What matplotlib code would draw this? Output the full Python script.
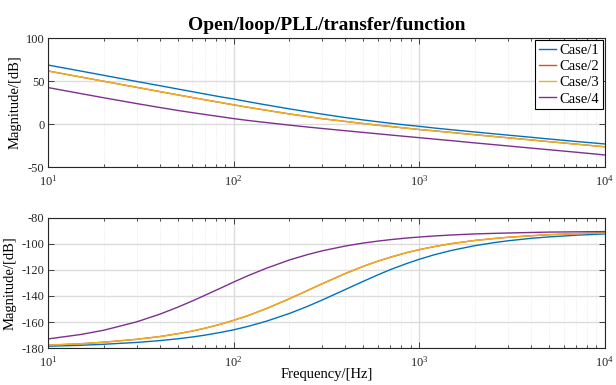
import matplotlib
matplotlib.use("Agg")
import matplotlib.pyplot as plt
import numpy as np
from matplotlib.ticker import LogLocator, NullFormatter

plt.rcParams['font.family'] = ['Liberation Serif', 'DejaVu Serif']
plt.rcParams['mathtext.fontset'] = 'stix'
plt.rcParams['axes.unicode_minus'] = False

freq = [10, 15, 20, 30, 40, 50, 60, 70, 85, 100, 120, 150, 200, 250, 300, 400, 500,
        600, 700, 850, 1000, 1200, 1500, 2000, 2500, 3000, 4000, 5000, 7000, 10000]

# open loop gain [dB]
mag_case1 = [68.7, 61.7, 56.7, 49.6, 44.7, 40.8, 37.7, 35.0, 31.7, 29.2, 26.0, 22.3,
             17.7, 14.3, 11.6, 7.6, 4.8, 2.7, 1.0, -1.1, -2.6, -4.5, -6.6, -9.2,
             -11.2, -12.8, -15.3, -17.3, -20.2, -23.1]
mag_case2 = [61.8, 54.8, 49.8, 42.8, 37.8, 34.0, 30.9, 28.3, 25.1, 22.4, 19.5, 16.1,
             11.8, 8.8, 6.3, 3.1, 0.6, -1.3, -2.8, -4.7, -6.3, -7.8, -9.8, -12.4,
             -14.3, -15.9, -18.4, -20.4, -23.3, -26.4]
mag_case3 = [61.8, 54.8, 49.8, 42.8, 37.8, 34.0, 30.9, 28.3, 25.1, 22.4, 19.5, 16.1,
             11.8, 8.8, 6.3, 3.1, 0.6, -1.3, -2.8, -4.7, -6.3, -7.8, -9.8, -12.4,
             -14.3, -15.9, -18.4, -20.4, -23.3, -26.4]
mag_case4 = [42.5, 35.5, 30.6, 23.9, 19.3, 15.9, 13.3, 11.2, 8.6, 6.4, 4.2, 1.8,
             -1.2, -3.4, -5.1, -7.7, -9.7, -11.3, -12.7, -14.4, -15.8, -17.4, -19.3, -21.9,
             -23.8, -25.4, -27.9, -29.8, -32.7, -35.9]

# lower panel values
ph_case1 = [-178.6, -177.9, -177.1, -175.7, -174.3, -172.9, -171.5, -170.1, -168.0, -166.0,
            -163.3, -159.4, -153.4, -148.0, -143.1, -135.0, -128.7, -123.7, -119.7, -115.2,
            -111.8, -108.4, -104.9, -101.3, -99.1, -97.6, -95.7, -94.6, -93.3, -92.3]
ph_case2 = [-177.8, -176.7, -175.5, -173.3, -171.2, -169.0, -166.9, -164.8, -161.7, -158.7,
            -155.0, -149.7, -142.1, -135.8, -130.6, -122.7, -117.2, -113.2, -110.2, -106.8,
            -104.4, -102.1, -99.7, -97.3, -95.9, -94.9, -93.7, -92.9, -92.1, -91.5]
ph_case3 = [-177.8, -176.7, -175.5, -173.3, -171.2, -169.0, -166.9, -164.8, -161.7, -158.7,
            -155.0, -149.7, -142.1, -135.8, -130.6, -122.7, -117.2, -113.2, -110.2, -106.8,
            -104.4, -102.1, -99.7, -97.3, -95.9, -94.9, -93.7, -92.9, -92.1, -91.5]
ph_case4 = [-173.0, -169.6, -166.3, -159.9, -154.0, -148.6, -143.8, -139.5, -134.0, -129.3,
            -124.3, -118.7, -112.3, -108.2, -105.3, -101.6, -99.3, -97.8, -96.7, -95.5,
            -94.7, -93.9, -93.1, -92.3, -91.9, -91.6, -91.2, -90.9, -90.7, -90.5]

labels = ['Case/1', 'Case/2', 'Case/3', 'Case/4']
colors = ['#0072BD', '#D95319', '#EDB120', '#7E2F8E']

fig = plt.figure(figsize=(6.16, 3.85), dpi=100)
ax1 = fig.add_axes([0.0779, 0.566, 0.904, 0.335])
ax2 = fig.add_axes([0.0779, 0.096, 0.904, 0.338])

for c, lab, col in zip([mag_case1, mag_case2, mag_case3, mag_case4], labels, colors):
    ax1.semilogx(freq, c, color=col, lw=1.0, label=lab)
for c, col in zip([ph_case1, ph_case2, ph_case3, ph_case4], colors):
    ax2.semilogx(freq, c, color=col, lw=1.0)

def style(ax, labx):
    ax.set_xlim(10, 1e4)
    ax.xaxis.set_major_locator(LogLocator(base=10))
    ax.xaxis.set_minor_locator(LogLocator(base=10, subs=np.arange(2, 10)))
    ax.xaxis.set_minor_formatter(NullFormatter())
    ax.tick_params(which='both', direction='in', top=True, right=True, labelsize=9,
                   colors='#262626', width=0.6, pad=2.5)
    ax.tick_params(axis='x', which='major', pad=5)
    ax.tick_params(which='major', length=4)
    ax.tick_params(which='minor', length=2.5)
    ax.grid(True, which='major', color='#dcdcdc', lw=1.0)
    ax.grid(True, which='minor', color='#e0e0e0', lw=0.5, ls=':')
    for s in ax.spines.values():
        s.set_color('#262626')
        s.set_linewidth(0.8)
    ax.set_axisbelow(True)
    ax.yaxis.set_label_coords(labx, 0.5)

style(ax1, -0.047)
style(ax2, -0.057)

ax1.set_ylim(-50, 100)
ax1.set_yticks([-50, 0, 50, 100])
ax1.set_ylabel('Magnitude/[dB]', fontsize=10.5)
ax1.set_title('Open/loop/PLL/transfer/function', fontsize=14, fontweight='bold', pad=6)
leg = ax1.legend(loc='upper right', fontsize=10.5, handlelength=1.2, handletextpad=0.2,
                 labelspacing=0.2, borderpad=0.25, borderaxespad=0.15, fancybox=False,
                 framealpha=1)
leg.get_frame().set_edgecolor('black')
leg.get_frame().set_linewidth(0.8)

ax2.set_ylim(-180, -80)
ax2.set_yticks(np.arange(-180, -79, 20))
ax2.set_ylabel('Magnitude/[dB]', fontsize=10.5)
ax2.set_xlabel('Frequency/[Hz]', fontsize=10.5)
ax2.xaxis.set_label_coords(0.5, -0.15)

fig.savefig('out.png', dpi=100)
